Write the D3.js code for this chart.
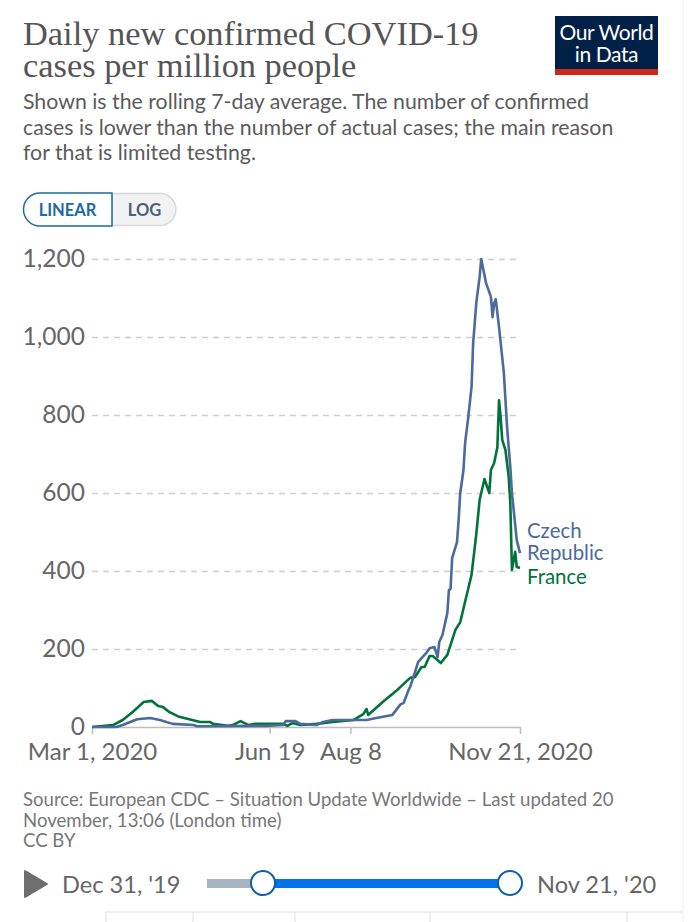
<!DOCTYPE html>
<html>
<head>
<meta charset="utf-8">
<script src="https://cdn.jsdelivr.net/npm/d3@7"></script>
<style>
  html, body { margin: 0; padding: 0; background: #fff; }
  svg { display: block; font-family: Lato, sans-serif; }
</style>
</head>
<body>
<div id="chart"></div>
<script>
// days counted from Mar 1, 2020
var czechDays = [0,15,19,28,36,42,50,63,65,108,118,120,126,129,139,143,149,170,176,186,191,193,196,197,200,202,207,209,212,214,215,217,220,221,222,223,226,227,228,230,231,233,235,236,238,240,241,244,247,248,249,250,252,255,257,259,260,263,265];
var czechCases = [0,0,5,20,23,18,8,5,2,3,5,15,15,8,5,13,18,18,23,31,58,62,95,103,141,167,190,202,205,180,218,236,292,351,354,433,474,531,600,659,728,795,872,985,1090,1154,1200,1138,1103,1051,1087,1097,1026,908,769,667,600,479,446];

var franceDays = [0,13,19,25,32,37,41,44,48,54,62,67,73,75,84,87,92,97,101,118,121,124,129,139,149,162,168,170,171,180,189,191,197,200,204,206,209,211,216,220,225,228,231,235,238,240,243,246,247,249,251,252,253,254,256,258,259,260,262,263,265];
var franceCases = [0,5,18,38,64,67,54,51,38,26,18,13,13,8,3,5,15,5,8,8,3,10,5,8,13,18,33,46,31,64,95,103,126,128,154,154,182,182,164,185,249,269,321,390,497,582,636,600,659,677,718,838,795,736,710,641,574,403,449,410,408];

var yTicks = [0, 200, 400, 600, 800, 1000, 1200];
var xTickDates = ["2020-03-01", "2020-06-19", "2020-08-08", "2020-11-21"];
var xTickLabels = ["Mar 1, 2020", "Jun 19", "Aug 8", "Nov 21, 2020"];

var titleLines = ["Daily new confirmed COVID-19", "cases per million people"];
var subtitleLines = ["Shown is the rolling 7-day average. The number of confirmed",
  "cases is lower than the number of actual cases; the main reason",
  "for that is limited testing."];
var sourceLines = ["Source: European CDC \u2013 Situation Update Worldwide \u2013 Last updated 20",
  "November, 13:06 (London time)", "CC BY"];

var czechColor = "#4c6a9c";
var franceColor = "#00733b";
var textColor = "#5b5b5b";

var width = 690, height = 922;
var startDate = new Date(2020, 2, 1);

var svg = d3.select("#chart").append("svg")
  .attr("width", width)
  .attr("height", height);

// header
svg.selectAll(".title").data(titleLines).enter().append("text")
  .attr("class", "title")
  .attr("x", 23)
  .attr("y", function(d, i) { return 45 + i * 32; })
  .attr("font-family", "'Liberation Serif', serif")
  .attr("font-size", 34.4)
  .attr("fill", "#555")
  .text(function(d) { return d; });

svg.selectAll(".subtitle").data(subtitleLines).enter().append("text")
  .attr("class", "subtitle")
  .attr("x", 23)
  .attr("y", function(d, i) { return 109 + i * 25.5; })
  .attr("font-size", 21.3)
  .attr("fill", textColor)
  .text(function(d) { return d; });

// logo
svg.append("rect").attr("x", 555).attr("y", 16).attr("width", 103).attr("height", 59).attr("fill", "#002147");
svg.append("rect").attr("x", 555).attr("y", 69).attr("width", 103).attr("height", 6).attr("fill", "#ce261e");
svg.selectAll(".logo").data(["Our World", "in Data"]).enter().append("text")
  .attr("class", "logo")
  .attr("x", 606.5)
  .attr("y", function(d, i) { return 40 + i * 22; })
  .attr("text-anchor", "middle")
  .attr("font-size", 21)
  .attr("letter-spacing", -0.4)
  .attr("fill", "#fff")
  .text(function(d) { return d; });

// linear / log toggle
svg.append("path")
  .attr("d", "M112,193.5 H160 a16,16 0 0 1 0,32 H112 Z")
  .attr("fill", "#f2f2f2")
  .attr("stroke", "#d8d8d8")
  .attr("stroke-width", 1.5);
svg.append("path")
  .attr("d", "M112,193 H40 a16.5,16.5 0 0 0 0,33 H112 Z")
  .attr("fill", "#fff")
  .attr("stroke", "#1d6a9e")
  .attr("stroke-width", 1.5);
svg.append("text").attr("x", 67.5).attr("y", 216).attr("text-anchor", "middle")
  .attr("font-size", 16.5).attr("font-weight", 700).attr("fill", "#1d6aa5").text("LINEAR");
svg.append("text").attr("x", 144.5).attr("y", 216).attr("text-anchor", "middle")
  .attr("font-size", 16.5).attr("font-weight", 700).attr("fill", "#4a5f7a").text("LOG");

// scales
var x = d3.scaleTime()
  .domain([startDate, d3.timeDay.offset(startDate, 265)])
  .range([92, 520]);
var y = d3.scaleLinear()
  .domain([0, 1200])
  .range([727, 259]);

// y axis with dashed gridlines
var yAxis = svg.append("g")
  .attr("transform", "translate(92,0)")
  .call(d3.axisLeft(y).tickValues(yTicks).tickSize(0).tickPadding(7).tickFormat(d3.format(",")));
yAxis.select(".domain").remove();
yAxis.selectAll("text")
  .attr("font-family", "Lato, sans-serif")
  .attr("font-size", 24.5)
  .attr("fill", "#666");
yAxis.selectAll("line")
  .filter(function(d) { return d > 0; })
  .attr("x2", 428)
  .attr("stroke", "#cfcfcf")
  .attr("stroke-width", 1.5)
  .attr("stroke-dasharray", "6,5");

// x axis
var parseDate = d3.timeParse("%Y-%m-%d");
var xAxis = svg.append("g")
  .attr("transform", "translate(0,727)")
  .call(d3.axisBottom(x)
    .tickValues(xTickDates.map(parseDate))
    .tickSize(7)
    .tickSizeOuter(0)
    .tickPadding(9)
    .tickFormat(function(d, i) { return xTickLabels[i]; }));
xAxis.select(".domain").attr("stroke", "#bdbdbd").attr("stroke-width", 1.5);
xAxis.selectAll("line").attr("stroke", "#bdbdbd").attr("stroke-width", 1.5);
xAxis.selectAll("text")
  .attr("font-family", "Lato, sans-serif")
  .attr("font-size", 24)
  .attr("fill", "#666");

// lines
var line = d3.line()
  .x(function(d) { return x(d3.timeDay.offset(startDate, d[0])); })
  .y(function(d) { return y(d[1]); });

svg.append("path")
  .datum(d3.zip(franceDays, franceCases))
  .attr("d", line)
  .attr("fill", "none")
  .attr("stroke", franceColor)
  .attr("stroke-width", 2.6)
  .attr("stroke-linejoin", "round");
svg.append("path")
  .datum(d3.zip(czechDays, czechCases))
  .attr("d", line)
  .attr("fill", "none")
  .attr("stroke", czechColor)
  .attr("stroke-width", 2.6)
  .attr("stroke-linejoin", "round");

// direct labels
svg.selectAll(".czech-label").data(["Czech", "Republic"]).enter().append("text")
  .attr("class", "czech-label")
  .attr("x", 527)
  .attr("y", function(d, i) { return 538 + i * 22; })
  .attr("font-size", 20.4)
  .attr("fill", czechColor)
  .text(function(d) { return d; });
svg.append("text").attr("x", 527).attr("y", 584)
  .attr("font-size", 20.4).attr("fill", franceColor).text("France");

// source
svg.selectAll(".source").data(sourceLines).enter().append("text")
  .attr("class", "source")
  .attr("x", 23)
  .attr("y", function(d, i) { return 806 + i * 20.5; })
  .attr("font-size", 18.6)
  .attr("fill", "#777")
  .text(function(d) { return d; });

// timeline
svg.append("path")
  .attr("d", "M25,871 L47,884 L25,897 Z")
  .attr("fill", "#6e6e6e")
  .attr("stroke", "#6e6e6e")
  .attr("stroke-width", 2)
  .attr("stroke-linejoin", "round");
svg.append("text").attr("x", 62).attr("y", 893).attr("font-size", 23.6).attr("fill", "#666").text("Dec 31, '19");
svg.append("text").attr("x", 537).attr("y", 893).attr("font-size", 23.6).attr("fill", "#666").text("Nov 21, '20");
svg.append("rect").attr("x", 207).attr("y", 879).attr("width", 56).attr("height", 9).attr("fill", "#a8b3c1");
svg.append("rect").attr("x", 263).attr("y", 879).attr("width", 247).attr("height", 9).attr("fill", "#0073e6");
svg.selectAll(".handle").data([263, 510]).enter().append("circle")
  .attr("class", "handle")
  .attr("cx", function(d) { return d; })
  .attr("cy", 883)
  .attr("r", 12)
  .attr("fill", "#fff")
  .attr("stroke", "#0f5fa8")
  .attr("stroke-width", 2);

// bit of the table showing at the bottom, and the page edge
svg.append("line").attr("x1", 106).attr("x2", 683).attr("y1", 912).attr("y2", 912).attr("stroke", "#ddd");
svg.selectAll(".cell").data([106, 193, 295, 430, 627]).enter().append("line")
  .attr("class", "cell")
  .attr("x1", function(d) { return d; })
  .attr("x2", function(d) { return d; })
  .attr("y1", 912).attr("y2", 922)
  .attr("stroke", "#ddd");
svg.append("line").attr("x1", 683).attr("x2", 683).attr("y1", 0).attr("y2", 922).attr("stroke", "#eee");
</script>
</body>
</html>
